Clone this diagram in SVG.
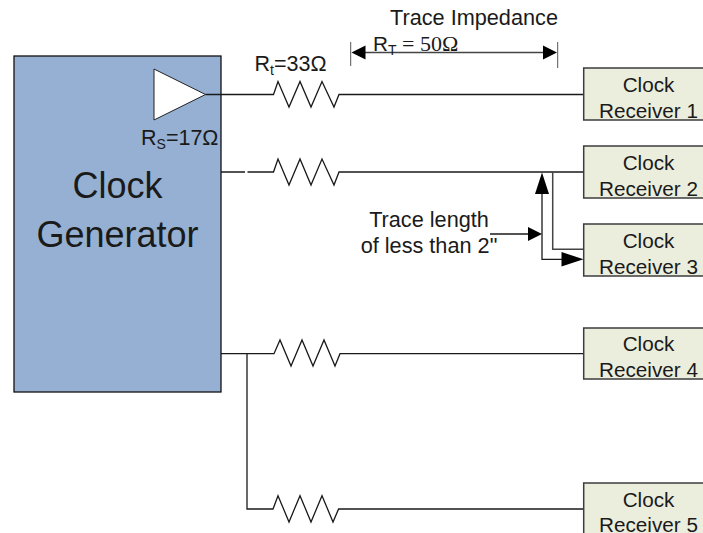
<svg xmlns="http://www.w3.org/2000/svg" width="703" height="533" viewBox="0 0 703 533">
<style>
text{font-family:"Liberation Sans",Arial,sans-serif;fill:#1a1a1a}
.lbl{font-size:20.7px}
.big{font-size:21.7px}
.mid{text-anchor:middle}
.serif{font-family:"Liberation Serif","Times New Roman",serif}
.w{fill:none;stroke:#1a1a1a;stroke-width:1.3}
.g{fill:none;stroke:#444;stroke-width:1.5}
.box{fill:#ebeedd;stroke:#3c3c3c;stroke-width:1.5}
.head{fill:#000;stroke:none}
</style>
<g id="clock-generator">
<rect x="14" y="56" width="207" height="336" fill="#95b0d2" stroke="#111" stroke-width="1.3"/>
<polygon points="154,69 205.5,94.5 154,120" fill="#fff" stroke="#222" stroke-width="1"/>
<text x="117.500" y="198" class="mid" font-size="36" fill="#000">Clock</text>
<text x="117.500" y="247" class="mid" font-size="36" fill="#000">Generator</text>
<text x="141" y="145" font-size="21.500">R<tspan font-size="14" dy="4">S</tspan><tspan dy="-4">=17Ω</tspan></text>
</g>
<g id="connectors">
<path class="w" d="M205.5 94.5H273.5L278 81.5L289 107L300 81.5L311 107L322 81.5L334 107L339 94.5H584"/>
<path class="w" d="M221 172H245M247.500 172H273.500L278 159L289 185L300 159L311 185L322 159L334 185L339 172H584"/>
<path class="w" d="M221 353.700H274L280 340L291 366L302 340L313 366L324 340L335 366L340 353.700H584"/>
<path class="w" d="M247 353.700V509H273L278 495.700L289 522L300 495.700L311 522L322 495.700L333 522L338.600 509H584"/>
<path class="g" d="M552.700 172V249.300H584"/>
<path class="w" d="M542 190V259.300H565"/>
<polygon class="head" points="542,172.500 549,194 535,194"/>
<polygon class="head" points="583.500,259.300 561.500,252 561.500,266.500"/>
<path class="w" d="M490 234H530"/>
<polygon class="head" points="542,234 528,227 528,241"/>
<path class="g" d="M360 52.500H548"/>
<path d="M350.700 42V66M557.700 42V68" fill="none" stroke="#555" stroke-width="1"/>
<polygon class="head" points="351.500,52.500 365.500,45.500 365.500,59.500"/>
<polygon class="head" points="557,52.500 543,45.500 543,59.500"/>
</g>
<g id="receiver-1">
<rect class="box" x="583.700" y="68" width="125" height="52"/>
<text x="648.500" y="92" class="mid lbl">Clock</text>
<text x="648.500" y="118" class="mid lbl">Receiver 1</text>
</g>
<g id="receiver-2">
<rect class="box" x="583.700" y="146" width="125" height="52"/>
<text x="648.500" y="170" class="mid lbl">Clock</text>
<text x="648.500" y="196" class="mid lbl">Receiver 2</text>
</g>
<g id="receiver-3">
<rect class="box" x="583.700" y="224" width="125" height="52"/>
<text x="648.500" y="248" class="mid lbl">Clock</text>
<text x="648.500" y="274" class="mid lbl">Receiver 3</text>
</g>
<g id="receiver-4">
<rect class="box" x="583.700" y="328" width="125" height="51"/>
<text x="648.500" y="351" class="mid lbl">Clock</text>
<text x="648.500" y="377" class="mid lbl">Receiver 4</text>
</g>
<g id="receiver-5">
<rect class="box" x="583.700" y="483" width="125" height="60"/>
<text x="648.500" y="507" class="mid lbl">Clock</text>
<text x="648.500" y="532" class="mid lbl">Receiver 5</text>
</g>
<g id="labels">
<text x="390" y="25" class="big">Trace Impedance</text>
<text x="373" y="51" class="lbl">R<tspan font-size="14" dy="4">T</tspan><tspan class="serif" dy="-4" font-size="22"> = 50Ω</tspan></text>
<text x="254.500" y="71" font-size="21.500">R<tspan font-size="14" dy="4">t</tspan><tspan dy="-4">=33Ω</tspan></text>
<text x="429" y="227" class="mid big">Trace length</text>
<text x="429" y="253" class="mid big">of less than 2"</text>
</g>
</svg>
